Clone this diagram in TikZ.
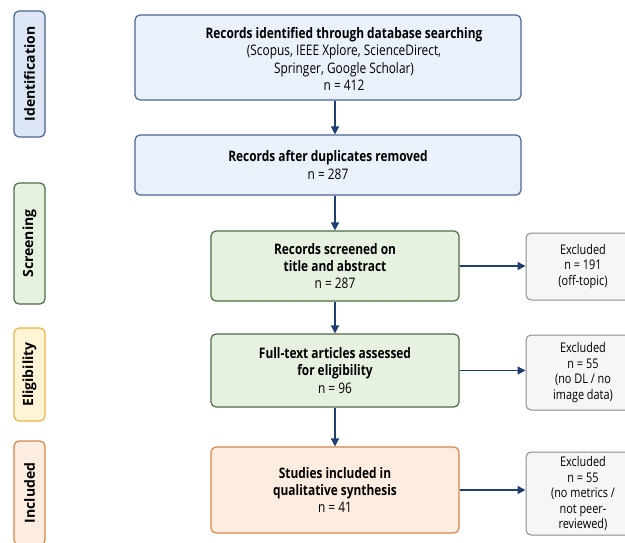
\documentclass[tikz,border=0pt]{standalone}
\usepackage{fontspec}
\setmainfont{Open Sans}[FakeStretch=0.82]
\newfontfamily\sidefont{Open Sans}
\usetikzlibrary{arrows.meta}
\definecolor{arrowblue}{HTML}{1F3D6E}
\definecolor{blueline}{HTML}{4A6592}
\definecolor{bluefill}{HTML}{EAF1FB}
\definecolor{sideblue}{HTML}{DCE6F5}
\definecolor{greenline}{HTML}{4F6B47}
\definecolor{greenfill}{HTML}{E7F1E0}
\definecolor{yellowline}{HTML}{E5B84F}
\definecolor{yellowfill}{HTML}{FFF4D6}
\definecolor{orangeline}{HTML}{D5864A}
\definecolor{orangefill}{HTML}{FDEDE0}
\definecolor{greyline}{HTML}{8C8C8C}
\definecolor{greyfill}{HTML}{F6F6F6}
\tikzset{
  box/.style={draw, rounded corners=5pt, line width=1.2pt, inner sep=0pt, align=center,
    font=\fontsize{14.5}{17.3}\selectfont, text=black},
  bluebox/.style={box, draw=blueline, fill=bluefill},
  greenbox/.style={box, draw=greenline, fill=greenfill},
  orangebox/.style={box, draw=orangeline, fill=orangefill},
  exbox/.style={box, draw=greyline, fill=greyfill, line width=1pt, font=\fontsize{13.3}{15.5}\selectfont},
  side/.style={draw, rounded corners=5pt, line width=1.2pt, inner sep=0pt, rotate=90,
    minimum height=31pt, font=\sidefont\bfseries\fontsize{14}{15}\selectfont, text=black},
  flow/.style={draw=arrowblue, line width=1.5pt, -{Triangle[length=8pt,width=8pt]}}
}
\begin{document}
\begin{tikzpicture}[x=1pt,y=-1pt]
\useasboundingbox (0,0) rectangle (625,542);
\fill[white] (0,0) rectangle (625,542);
\clip (0,0) rectangle (625,542);
% side labels
\node[side, draw=blueline, fill=sideblue, minimum width=126pt] (sid) at (29.5,74) {Identification};
\node[side, draw=greenline, fill=greenfill, minimum width=121pt] (sscr) at (29.5,243.5) {Screening};
\node[side, draw=yellowline, fill=yellowfill, minimum width=93pt] (selig) at (29.5,374.5) {Eligibility};
\node[side, draw=orangeline, fill=orangefill, minimum width=104pt] (sinc) at (29.5,493) {Included};
% main boxes
\node[bluebox, minimum width=386pt, minimum height=85pt] (b1) at (328,57.5) {};
\node[align=center, font=\fontsize{14.5}{17.3}\selectfont, inner sep=0pt] (b1t) at (344,59)
  {\textbf{Records identified through database searching}\\(Scopus, IEEE Xplore, ScienceDirect,\\Springer, Google Scholar)\\n = 412};
\node[bluebox, minimum width=386pt, minimum height=60pt] (b2) at (328,165)
  {\textbf{Records after duplicates removed}\\n = 287};
\node[greenbox, minimum width=248pt, minimum height=70pt] (b3) at (335,266)
  {\textbf{Records screened on}\\\textbf{title and abstract}\\n = 287};
\node[greenbox, minimum width=248pt, minimum height=73pt] (b4) at (335,370.5)
  {\textbf{Full-text articles assessed}\\\textbf{for eligibility}\\n = 96};
\node[orangebox, minimum width=248pt, minimum height=86pt] (b5) at (335,490)
  {\textbf{Studies included in}\\\textbf{qualitative synthesis}\\n = 41};
% excluded boxes
\node[exbox, minimum width=114pt, minimum height=67pt] (e1) at (583,266.5)
  {Excluded\\n = 191\\(off-topic)};
\node[exbox, minimum width=114pt, minimum height=75pt] (e2) at (583,372.5)
  {Excluded\\n = 55\\(no DL / no\\image data)};
\node[exbox, minimum width=114pt, minimum height=83pt] (e3) at (583,493.5)
  {Excluded\\n = 55\\(no metrics /\\not peer-\\reviewed)};
% arrows
\draw[flow] (b1.south -| b3.north) -- (b2.north -| b3.north);
\draw[flow] (b2.south -| b3.north) -- (b3.north);
\draw[flow] (b3.south) -- (b4.north);
\draw[flow] (b4.south) -- (b5.north);
\draw[flow] (b3.east) -- (b3.east -| e1.west);
\draw[flow] (b4.east) -- (b4.east -| e2.west);
\draw[flow] (b5.east) -- (b5.east -| e3.west);
\end{tikzpicture}
\end{document}
